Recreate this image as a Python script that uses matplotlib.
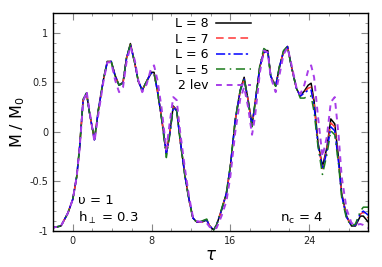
import matplotlib
matplotlib.use("Agg")
import matplotlib.pyplot as plt
from matplotlib.ticker import MultipleLocator

# time grid (tau) shared by all series
tau = [-2.2, -1.2, -0.5, 0.0, 0.4, 0.7, 1.05, 1.4, 1.7, 2.2, 2.6, 3.1, 3.5, 3.9,
       4.3, 4.7, 5.1, 5.45, 5.85, 6.3, 6.65, 7.05, 7.5, 7.95, 8.25, 8.6, 9.0,
       9.5, 9.85, 10.2, 10.55, 10.9, 11.4, 11.8, 12.2, 12.6, 13.1, 13.6, 13.9,
       14.3, 14.6, 15.1, 15.6, 16.0, 16.5, 17.0, 17.4, 17.8, 18.2, 18.5, 19.0,
       19.4, 19.8, 20.1, 20.6, 21.0, 21.4, 21.8, 22.2, 22.7, 23.1, 23.5, 23.9,
       24.2, 24.5, 24.9, 25.35, 25.8, 26.2, 26.6, 27.0, 27.3, 27.8, 28.3, 28.7,
       29.2, 29.5, 30.0]

m_L8 = [-0.97, -0.95, -0.82, -0.68, -0.45, -0.15, 0.32, 0.39, 0.19, -0.08, 0.22,
        0.52, 0.71, 0.71, 0.57, 0.47, 0.50, 0.74, 0.89, 0.69, 0.51, 0.42, 0.51,
        0.60, 0.60, 0.41, 0.15, -0.22, -0.01, 0.26, 0.22, -0.08, -0.45, -0.68,
        -0.87, -0.91, -0.91, -0.89, -0.95, -0.99, -0.94, -0.79, -0.62, -0.35,
        0.12, 0.42, 0.55, 0.32, 0.07, 0.28, 0.66, 0.81, 0.82, 0.56, 0.46, 0.66,
        0.81, 0.86, 0.66, 0.44, 0.36, 0.41, 0.47, 0.49, 0.31, -0.11, -0.35,
        -0.16, 0.13, 0.08, -0.28, -0.62, -0.85, -0.95, -0.95, -0.85, -0.85, -0.91]

m_L7 = [-0.97, -0.95, -0.82, -0.68, -0.45, -0.15, 0.32, 0.39, 0.19, -0.08, 0.22,
        0.52, 0.70, 0.71, 0.56, 0.47, 0.49, 0.74, 0.88, 0.69, 0.51, 0.42, 0.51,
        0.59, 0.59, 0.41, 0.15, -0.21, -0.01, 0.25, 0.22, -0.08, -0.45, -0.68,
        -0.87, -0.91, -0.91, -0.89, -0.95, -0.99, -0.94, -0.79, -0.62, -0.35,
        0.12, 0.41, 0.53, 0.32, 0.06, 0.28, 0.66, 0.80, 0.81, 0.56, 0.46, 0.66,
        0.81, 0.86, 0.66, 0.44, 0.36, 0.40, 0.44, 0.45, 0.28, -0.12, -0.37,
        -0.18, 0.09, 0.05, -0.30, -0.63, -0.86, -0.95, -0.94, -0.83, -0.81, -0.87]

m_L6 = [-0.97, -0.95, -0.82, -0.68, -0.45, -0.15, 0.32, 0.39, 0.19, -0.08, 0.22,
        0.52, 0.70, 0.71, 0.56, 0.47, 0.49, 0.74, 0.88, 0.69, 0.51, 0.42, 0.51,
        0.59, 0.59, 0.41, 0.15, -0.22, -0.02, 0.25, 0.21, -0.08, -0.45, -0.68,
        -0.87, -0.91, -0.90, -0.89, -0.95, -0.99, -0.94, -0.79, -0.62, -0.35,
        0.12, 0.41, 0.53, 0.31, 0.06, 0.28, 0.66, 0.80, 0.81, 0.56, 0.46, 0.66,
        0.81, 0.86, 0.66, 0.44, 0.36, 0.39, 0.42, 0.42, 0.26, -0.13, -0.38,
        -0.20, 0.05, 0.01, -0.32, -0.64, -0.86, -0.95, -0.94, -0.82, -0.80, -0.84]

m_L5 = [-0.97, -0.95, -0.82, -0.68, -0.45, -0.14, 0.33, 0.39, 0.19, -0.08, 0.23,
        0.53, 0.71, 0.71, 0.56, 0.47, 0.49, 0.75, 0.88, 0.69, 0.51, 0.42, 0.51,
        0.59, 0.59, 0.41, 0.14, -0.26, -0.03, 0.25, 0.21, -0.09, -0.46, -0.69,
        -0.88, -0.91, -0.90, -0.88, -0.95, -0.99, -0.94, -0.78, -0.61, -0.34,
        0.13, 0.42, 0.54, 0.31, 0.05, 0.29, 0.68, 0.84, 0.81, 0.55, 0.46, 0.67,
        0.82, 0.86, 0.65, 0.44, 0.34, 0.34, 0.36, 0.36, 0.20, -0.15, -0.43,
        -0.23, 0.01, -0.03, -0.34, -0.66, -0.88, -0.95, -0.93, -0.80, -0.76, -0.76]

m_2lev = [-0.97, -0.95, -0.82, -0.68, -0.45, -0.16, 0.30, 0.41, 0.21, -0.10, 0.18,
          0.50, 0.70, 0.70, 0.52, 0.40, 0.45, 0.70, 0.86, 0.72, 0.52, 0.40, 0.48,
          0.64, 0.67, 0.52, 0.25, -0.18, 0.10, 0.35, 0.32, 0.00, -0.38, -0.65,
          -0.86, -0.90, -0.91, -0.92, -0.96, -0.98, -0.97, -0.85, -0.70, -0.45,
          0.00, 0.33, 0.45, 0.25, -0.03, 0.15, 0.60, 0.82, 0.80, 0.55, 0.40, 0.58,
          0.78, 0.85, 0.68, 0.45, 0.38, 0.47, 0.62, 0.67, 0.55, 0.15, -0.25,
          -0.05, 0.30, 0.35, -0.05, -0.45, -0.78, -0.92, -0.94, -0.93, -0.94, -0.97]

fig = plt.figure(figsize=(3.82, 2.67), dpi=100)
ax = fig.add_axes([0.139, 0.135, 0.825, 0.817])

ax.plot(tau, m_L8, color='black', lw=1.1, label='L = 8')
ax.plot(tau, m_L7, color='#ff3535', lw=1.1, ls=(0, (5, 3)), label='L = 7')
ax.plot(tau, m_L6, color='#0000ff', lw=1.1, ls=(0, (6, 2, 1.5, 2)), label='L = 6')
ax.plot(tau, m_L5, color='#1a7a1a', lw=1.1, ls=(0, (6, 3, 1, 3)), label='L = 5')
ax.plot(tau, m_2lev, color='#a83ee8', lw=1.4, ls=(0, (3, 2.5)), label='2 lev')

ax.set_xlim(-2, 30)
ax.set_ylim(-1, 1.2)
ax.xaxis.set_major_locator(MultipleLocator(8))
ax.xaxis.set_minor_locator(MultipleLocator(2))
ax.yaxis.set_minor_locator(MultipleLocator(0.1))
ax.set_yticks([-1, -0.5, 0, 0.5, 1])
ax.set_yticklabels(['-1', '-0.5', '0', '0.5', '1'])
ax.tick_params(which='both', direction='in', top=True, right=True,
               color='#888888', labelsize=7, labelcolor='#222222')
ax.tick_params(which='major', length=5, width=0.8)
ax.tick_params(which='minor', length=2.5, width=0.6)
for s in ax.spines.values():
    s.set_linewidth(1.0)

ax.set_xlabel(r'$\tau$', fontsize=12, labelpad=0)
ax.set_ylabel(r'M / M$_0$', fontsize=11.5, labelpad=2)

ax.text(0.08, 0.125, 'υ = 1', transform=ax.transAxes, fontsize=9.5)
ax.text(0.08, 0.04, r'h$_\perp$ = 0.3', transform=ax.transAxes, fontsize=9.5)
ax.text(0.72, 0.04, r'n$_\mathrm{c}$ = 4', transform=ax.transAxes, fontsize=9.5)

ax.legend(loc='upper left', bbox_to_anchor=(0.36, 1.02), frameon=False,
          markerfirst=False, fontsize=9, handlelength=2.8, handletextpad=0.6,
          labelspacing=0.2, borderpad=0.2)

fig.savefig('out.png', dpi=100)
